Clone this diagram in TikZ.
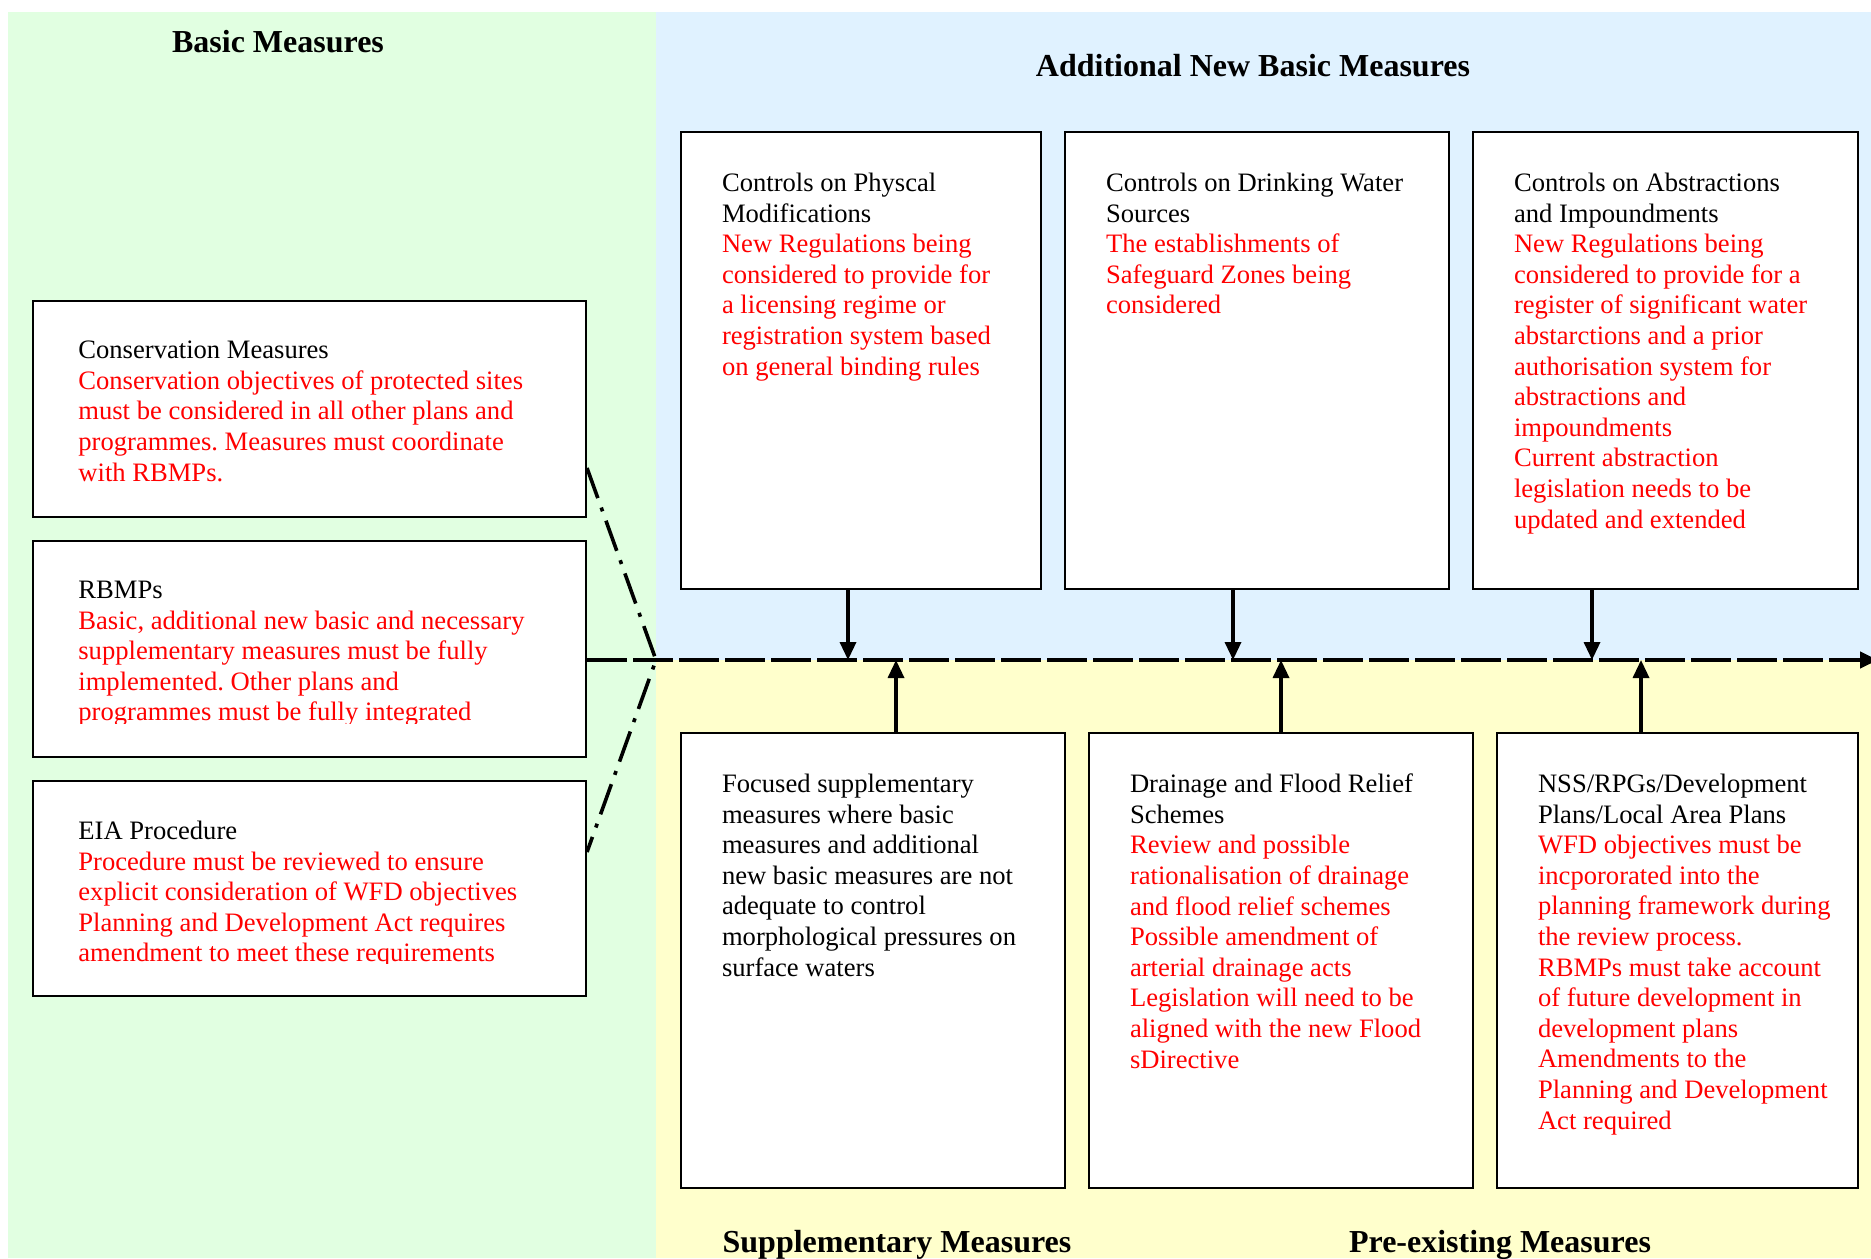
\documentclass[tikz,border=0pt]{standalone}
\usepackage{fontspec}
\setmainfont{Liberation Serif}
\usetikzlibrary{arrows.meta}
\definecolor{basicgreen}{RGB}{225,255,225}
\definecolor{addblue}{RGB}{224,242,255}
\definecolor{suppyellow}{RGB}{255,255,204}

\begin{document}
\begin{tikzpicture}[x=0.5pt, y=-0.5pt,
        % Stile per i riquadri bianchi
        box/.style={rectangle, draw=black, fill=white, line width=1pt, anchor=north west, inner sep=0pt},
        % Stile per il testo dentro i riquadri
        txt/.style={anchor=north west, align=left, text width=240pt, inner sep=0pt,
            font=\fontsize{13.3}{15.3}\selectfont,
            execute at begin node={\frenchspacing\spaceskip=0pt\xspaceskip=0pt\relax}},
        % Stile per i titoli delle zone
        heading/.style={anchor=base, inner sep=0pt, font=\fontsize{16}{19}\selectfont\bfseries},
        % Frecce verso la linea principale
        feed/.style={line width=1.7pt, -{Triangle[length=9pt, width=8pt]}},
        mainline/.style={line width=2pt, dash pattern=on 20pt off 3pt, -{Triangle[length=9pt, width=8pt]}},
        linkline/.style={line width=1.8pt, dash pattern=on 16pt off 5pt on 2pt off 5pt}
    ]

        \clip (0,0) rectangle (1871,1258);

        % --- ZONE DI SFONDO ---
        \fill[basicgreen] (8,12) rectangle (656,1258);
        \fill[addblue] (656,12) rectangle (1871,660);
        \fill[suppyellow] (656,660) rectangle (1871,1258);

        % --- TITOLI ---
        \node[heading] (tBasic) at (278,52) {Basic Measures};
        \node[heading] (tAdd)   at (1253,76) {Additional New Basic Measures};
        \node[heading] (tSupp)  at (897,1252) {Supplementary Measures};
        \node[heading] (tPre)   at (1500,1252) {Pre-existing Measures};

        % --- RIQUADRI A SINISTRA ---
        \node[box, minimum width=276.5pt, minimum height=108pt] (cons) at (32,300) {};
        \node[box, minimum width=276.5pt, minimum height=108pt] (rbmp) at (32,540) {};
        \node[box, minimum width=276.5pt, minimum height=107.5pt] (eia) at (32,780) {};

        \node[txt] (consT) at ([shift={(23pt,-20.3pt)}]cons.north west) {Conservation Measures\\
            \color{red}Conservation objectives of protected sites\\must be considered in all other plans and\\programmes. Measures must coordinate\\with RBMPs.};
        \begin{scope}
            \clip (rbmp.north west) rectangle (585,723);
            \node[txt] (rbmpT) at ([shift={(23pt,-20.3pt)}]rbmp.north west) {RBMPs\\
                \color{red}Basic, additional new basic and necessary\\supplementary measures must be fully\\implemented. Other plans and\\programmes must be fully integrated};
        \end{scope}
        \begin{scope}
            \clip (eia.north west) rectangle (585,963);
            \node[txt] (eiaT) at ([shift={(23pt,-20.3pt)}]eia.north west) {EIA Procedure\\
                \color{red}Procedure must be reviewed to ensure\\explicit consideration of WFD objectives\\Planning and Development Act requires\\amendment to meet these requirements};
        \end{scope}

        % --- RIQUADRI IN ALTO ---
        \node[box, minimum width=180pt, minimum height=228.5pt] (phys)  at (680,131) {};
        \node[box, minimum width=192pt, minimum height=228.5pt] (drink) at (1064,131) {};
        \node[box, minimum width=192.5pt, minimum height=228.5pt] (abstr) at (1472,131) {};

        \node[txt] (physT) at ([shift={(20.8pt,-20.8pt)}]phys.north west) {Controls on Physcal\\Modifications\\
            \color{red}New Regulations being\\considered to provide for\\a licensing regime or\\registration system based\\on general binding rules};
        \node[txt] (drinkT) at ([shift={(20.8pt,-20.8pt)}]drink.north west) {Controls on Drinking Water\\Sources\\
            \color{red}The establishments of\\Safeguard Zones being\\considered};
        \node[txt] (abstrT) at ([shift={(20.8pt,-20.8pt)}]abstr.north west) {Controls on Abstractions\\and Impoundments\\
            \color{red}New Regulations being\\considered to provide for a\\register of significant water\\abstarctions and a prior\\authorisation system for\\abstractions and\\impoundments\\Current abstraction\\legislation needs to be\\updated and extended};

        % --- RIQUADRI IN BASSO ---
        \node[box, minimum width=192pt, minimum height=227.5pt] (focus) at (680,732) {};
        \node[box, minimum width=192pt, minimum height=227.5pt] (drain) at (1088,732) {};
        \node[box, minimum width=180.5pt, minimum height=227.5pt] (plans) at (1496,732) {};

        \node[txt] (focusT) at ([shift={(20.8pt,-20.8pt)}]focus.north west) {Focused supplementary\\measures where basic\\measures and additional\\new basic measures are not\\adequate to control\\morphological pressures on\\surface waters};
        \node[txt] (drainT) at ([shift={(20.8pt,-20.8pt)}]drain.north west) {Drainage and Flood Relief\\Schemes\\
            \color{red}Review and possible\\rationalisation of drainage\\and flood relief schemes\\Possible amendment of\\arterial drainage acts\\Legislation will need to be\\aligned with the new Flood\\sDirective};
        \node[txt] (plansT) at ([shift={(20.8pt,-20.8pt)}]plans.north west) {NSS/RPGs/Development\\Plans/Local Area Plans\\
            \color{red}WFD objectives must be\\incpororated into the\\planning framework during\\the review process.\\RBMPs must take account\\of future development in\\development plans\\Amendments to the\\Planning and Development\\Act required};

        % --- LINEA PRINCIPALE ---
        \coordinate (hub) at (656,660);
        \coordinate (fine) at (1878,660);
        \coordinate (c1) at (585,468);
        \coordinate (c3) at (585,852);
        \coordinate (d1) at (848,660);
        \coordinate (d2) at (1233,660);
        \coordinate (d3) at (1592,660);
        \coordinate (u1) at (896,660);
        \coordinate (u2) at (1281,660);
        \coordinate (u3) at (1641,660);

        \draw[mainline] (rbmp.east |- hub) -- (fine);
        \draw[linkline] (cons.east |- c1) -- (hub) -- (eia.east |- c3);

        % Frecce dai riquadri
        \draw[feed] (phys.south -| d1) -- (d1);
        \draw[feed] (drink.south -| d2) -- (d2);
        \draw[feed] (abstr.south -| d3) -- (d3);
        \draw[feed] (focus.north -| u1) -- (u1);
        \draw[feed] (drain.north -| u2) -- (u2);
        \draw[feed] (plans.north -| u3) -- (u3);

    \end{tikzpicture}
\end{document}
